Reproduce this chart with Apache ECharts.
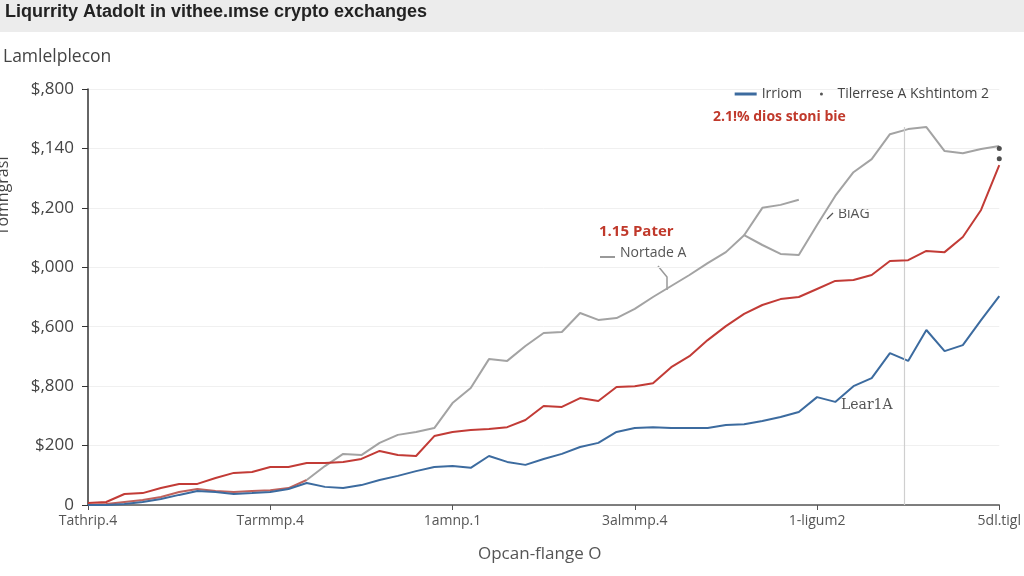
<!DOCTYPE html>
<html>
<head>
<meta charset="utf-8">
<script src="https://cdn.jsdelivr.net/npm/echarts@6/dist/echarts.min.js"></script>
<style>html,body{margin:0;padding:0;background:#fff}#c{width:1024px;height:576px}</style>
</head>
<body>
<div id="c"></div>
<script>
// ---- data ----
const xTickLabels = ['Tathrip.4', 'Tarmmp.4', '1amnp.1', '3almmp.4', '1-ligum2', '5dl.tigl'];
const yTickLabels = ['0', '$200', '$,800', '$,600', '$,000', '$,200', '$,140', '$,800'];

const blueValues = [0,0,3,10,20,34,47,44,37,40,44,54,74,61,57,67,84,98,114,128,131,125,165,145,135,155,172,195,209,246,259,262,259,259,259,269,272,283,296,313,363,347,400,427,511,485,589,518,538,622,703];
const redValues = [7,10,37,40,57,71,71,91,108,111,128,128,141,141,145,155,182,168,165,232,246,252,256,262,286,333,330,360,350,397,400,410,464,501,555,602,643,673,693,700,727,754,757,774,821,824,855,851,902,993,1144];
const lowRedValues = [0,3,10,17,27,44,54,47,44,47,50,57,84];
const grayValues = [null,null,null,null,null,null,null,null,null,null,null,null,84,131,172,168,209,236,246,259,343,394,491,485,535,579,582,646,623,629,660,700,737,774,814,851,908,875,845,841,942,1040,1120,1164,1248,1265,1272,1191,1184,1198,1208];
const grayBranchValues = [null,null,null,null,null,null,null,null,null,null,null,null,null,null,null,null,null,null,null,null,null,null,null,null,null,null,null,null,null,null,null,null,null,null,null,null,908,1000,1010,1027];
const endDotValues = [1200, 1165];
const markerX = 44.76;
const markerTop = 1272;

const toPairs = arr => arr.map((v, i) => [i, v]);
const lastIndex = blueValues.length - 1;

const chart = echarts.init(document.getElementById('c'));
const font = "'Open Sans', 'Noto Sans', sans-serif";

chart.setOption({
  backgroundColor: '#ffffff',
  animation: false,
  grid: { left: 88, right: 20, top: 89, bottom: 71 },
  legend: {
    right: 30, top: 82,
    itemWidth: 22, itemHeight: 3, itemGap: 18,
    textStyle: { fontFamily: font, fontSize: 14, color: '#444' },
    data: [
      { name: 'Irriom', icon: 'rect', itemStyle: { color: '#3c6b9f' } },
      { name: 'Tilerrese A Kshtintom 2', icon: 'circle', itemStyle: { color: '#555' } }
    ]
  },
  xAxis: {
    type: 'value', min: 0, max: 50, interval: 10,
    axisLine: { show: true, lineStyle: { color: '#555', width: 1.5 } },
    axisTick: { show: true, length: 5, lineStyle: { color: '#555' } },
    splitLine: { show: false },
    axisLabel: {
      fontFamily: font, fontSize: 14, color: '#555', margin: 9,
      formatter: v => xTickLabels[Math.round(v / 10)]
    }
  },
  yAxis: {
    type: 'value', min: 0, max: 1400, interval: 200,
    axisLine: { show: true, lineStyle: { color: '#333', width: 1.5 } },
    axisTick: { show: true, length: 6, lineStyle: { color: '#333' } },
    splitLine: { show: true, lineStyle: { color: '#f0f0f0', width: 1 } },
    axisLabel: {
      fontFamily: font, fontSize: 17, color: '#444', margin: 14,
      formatter: v => yTickLabels[Math.round(v / 200)]
    }
  },
  series: [
    {
      name: 'Irriom', type: 'line', data: toPairs(blueValues),
      showSymbol: false, lineStyle: { color: '#3c6b9f', width: 2 }, itemStyle: { color: '#3c6b9f' }, z: 4
    },
    {
      name: 'red', type: 'line', data: toPairs(redValues),
      showSymbol: false, lineStyle: { color: '#c23b36', width: 2 }, itemStyle: { color: '#c23b36' }, z: 5
    },
    {
      name: 'lowred', type: 'line', data: toPairs(lowRedValues),
      showSymbol: false, lineStyle: { color: '#c0625c', width: 2 }, z: 3
    },
    {
      name: 'Tilerrese A Kshtintom 2', type: 'line', data: toPairs(grayValues),
      showSymbol: false,
      itemStyle: { color: '#a3a3a3' },
      lineStyle: { color: '#a3a3a3', width: 2 },
      z: 3,
      markLine: {
        silent: true, symbol: ['none', 'none'], label: { show: false },
        lineStyle: { color: '#cfcfcf', width: 1.2, type: 'solid' },
        data: [[{ coord: [markerX, 0] }, { coord: [markerX, markerTop] }]]
      }
    },
    {
      name: 'branch', type: 'line', data: toPairs(grayBranchValues),
      showSymbol: false, lineStyle: { color: '#a3a3a3', width: 2 }, z: 3
    },
    {
      name: 'enddots', type: 'scatter', data: endDotValues.map(v => [lastIndex, v]),
      symbol: 'circle', symbolSize: 5, itemStyle: { color: '#222' }, z: 6
    }
  ],
  graphic: [
    { type: 'rect', left: 0, top: 0, shape: { width: 1024, height: 32 }, style: { fill: '#ececec' }, z: -1 },
    { type: 'text', left: 5, top: 3, style: { text: 'Liqurrity Atadolt in vithee.ımse crypto exchanges', font: "bold 18px 'Liberation Sans', Arial, sans-serif", fill: '#222' } },
    { type: 'text', left: 3, top: 48, style: { text: 'Lamlelplecon', font: "17.5px " + font, fill: '#444' } },
    { type: 'text', x: 3, y: 196, rotation: Math.PI / 2, style: { text: 'Tomngrasl', font: "16px " + font, fill: '#444', align: 'center', verticalAlign: 'middle' } },
    { type: 'text', left: 713, top: 110, style: { text: '2.1!% dios stoni bie', font: "bold 14px " + font, fill: '#c0392b' } },
    { type: 'text', left: 599, top: 224, style: { text: '1.15 Pater', font: "bold 15px " + font, fill: '#c0392b' } },
    { type: 'line', shape: { x1: 600, y1: 257, x2: 615, y2: 257 }, style: { stroke: '#777', lineWidth: 1.5 } },
    { type: 'text', left: 620, top: 246, style: { text: 'Nortade A', font: "14px " + font, fill: '#555' } },
    { type: 'polyline', shape: { points: [[658, 266], [667, 277], [667, 290]] }, style: { stroke: '#999', lineWidth: 1.5, fill: null } },
    { type: 'text', left: 838, top: 207, style: { text: 'B\u0131AG', font: "14px " + font, fill: '#555' } },
    { type: 'line', shape: { x1: 827, y1: 219, x2: 833, y2: 213 }, style: { stroke: '#555', lineWidth: 1.2 } },
    { type: 'text', left: 841, top: 398, style: { text: 'Lear1A', font: "14px 'DejaVu Serif', serif", fill: '#555' } },
    { type: 'text', left: 478, top: 546, style: { text: 'Opcan-flange O', font: "17px " + font, fill: '#555' } }
  ]
});
</script>
</body>
</html>
